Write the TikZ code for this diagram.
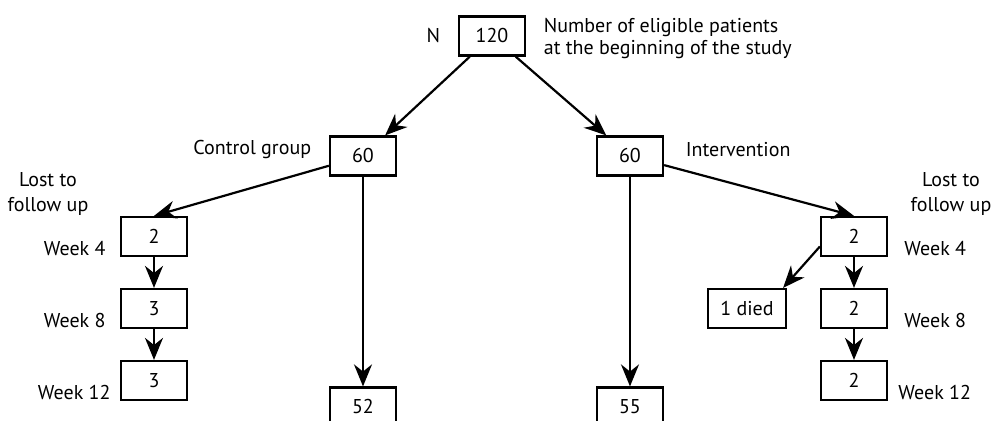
\documentclass[tikz,border=0pt]{standalone}
\usepackage{fontspec}
\setmainfont{PT Sans}
\usetikzlibrary{arrows.meta,positioning}

\begin{document}
\begin{tikzpicture}[->,>={Stealth[length=11pt,width=9pt]},line width=1.1pt,node distance=60pt,
  box node/.style={rectangle,draw,minimum width=33pt,minimum height=19.5pt,font=\fontsize{10}{11}\selectfont},
  text node/.style={font=\fontsize{10}{11}\selectfont,align=center}]

 \useasboundingbox (-246pt,-192.5pt) rectangle (250.5pt,18pt);

 \node[box node] (all) {120};
 \node[box node] (ctrl) [below of=all, xshift=-64.5pt] {60};
 \node[box node] (intv) [below of=all, xshift=69pt] {60};
 \node[box node] (c52) [node distance=125.5pt, below of=ctrl] {52};
 \node[box node] (i55) [node distance=125.5pt, below of=intv] {55};
 \node[box node] (c4) [node distance=40.25pt, below of=ctrl, xshift=-104.5pt] {2};
 \node[box node] (c8) [node distance=36pt, below of=c4] {3};
 \node[box node] (c12) [node distance=36pt, below of=c8] {3};
 \node[box node] (i4) [node distance=40.25pt, below of=intv, xshift=112pt] {2};
 \node[box node] (i8) [node distance=36pt, below of=i4] {2};
 \node[box node] (i12) [node distance=36pt, below of=i8] {2};
 \node[box node, minimum width=39pt] (died) [node distance=53.5pt, left of=i8] {1 died};

 % labels
 \node[text node] (nlab) [left=5pt of all] {N};
 \node[text node, align=left] (study) [right=5pt of all, yshift=-1.5pt] {Number of eligible patients\\at the beginning of the study};
 \node[text node] (ctrllab) [left=5pt of ctrl, yshift=3pt] {Control group};
 \node[text node] (intvlab) [right=7pt of intv, yshift=3pt] {Intervention};
 \node[text node, font=\fontsize{10}{12.5}\selectfont] (clost) at ([shift={(-53pt,21pt)}]c4) {Lost to\\follow up};
 \node[text node, font=\fontsize{10}{12.5}\selectfont] (ilost) at ([shift={(48.5pt,21pt)}]i4) {Lost to\\follow up};
 \node[text node] (cw4) [left=3.3pt of c4, yshift=-6pt] {Week 4};
 \node[text node] (cw8) [left=3.3pt of c8, yshift=-6pt] {Week 8};
 \node[text node] (cw12) [left=0.8pt of c12, yshift=-6pt] {Week 12};
 \node[text node] (iw4) [right=4.3pt of i4, yshift=-6pt] {Week 4};
 \node[text node] (iw8) [right=4.3pt of i8, yshift=-6pt] {Week 8};
 \node[text node] (iw12) [right=1.3pt of i12, yshift=-6pt] {Week 12};

 \path
    (all)	edge (ctrl)
    (all)	edge (intv)
    (ctrl)	edge (c4.north)
    (ctrl)	edge (c52)
    (c4)	edge (c8)
    (c8)	edge (c12)
    (intv)	edge (i4.north)
    (intv)	edge (i55)
    (i4)	edge (i8)
    (i8)	edge (i12)
    ([yshift=-5pt]i4.west) edge ([xshift=-2pt]died.north east);

\end{tikzpicture}
\end{document}
